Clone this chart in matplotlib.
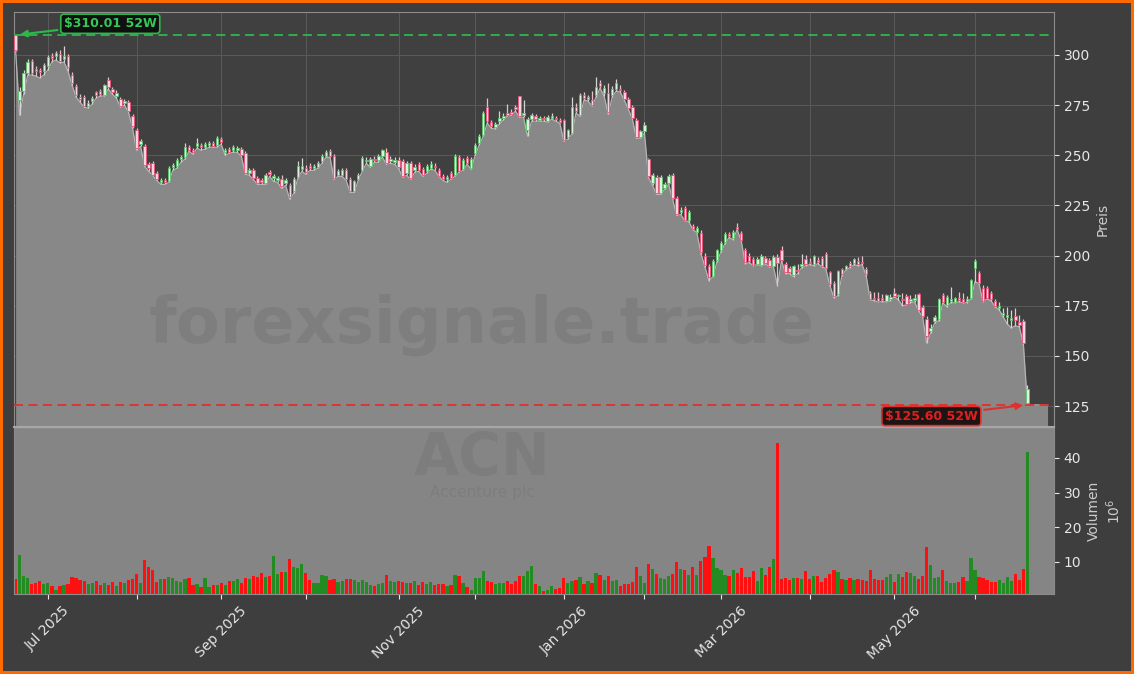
import numpy as np
import pandas as pd
import matplotlib
matplotlib.use("Agg")
import matplotlib.pyplot as plt

# ==========================================
# 1. DATA (ACN daily)
# ==========================================
holidays = ["2025-06-19", "2025-07-04", "2025-09-01", "2025-11-27", "2025-12-25",
            "2026-01-01", "2026-01-19", "2026-02-16", "2026-04-03", "2026-05-25"]
dates = pd.bdate_range("2025-06-18", "2026-06-18")
dates = dates[~dates.isin(pd.to_datetime(holidays))]

opens = [
    310.0, 277.5, 282.0, 291.0, 297.0, 293.0, 292.5, 292.0, 294.5, 299.5,
    299.5, 300.5, 298.0, 299.5, 290.0, 284.5, 279.0, 279.0, 274.5, 277.0,
    281.5, 282.0, 280.0, 287.5, 283.0, 279.5, 278.0, 276.0, 276.7, 269.6,
    262.7, 255.5, 254.4, 245.5, 246.0, 241.0, 236.5, 237.5, 237.0, 244.0,
    244.5, 248.0, 249.0, 254.0, 252.5, 254.5, 255.0, 254.0, 255.0, 256.0,
    255.0, 258.0, 251.5, 253.0, 252.5, 252.5, 253.0, 251.0, 241.0, 242.7,
    238.5, 237.5, 236.0, 241.5, 238.5, 237.5, 238.0, 236.0, 235.0, 232.0,
    239.0, 243.0, 243.6, 244.5, 243.5, 244.2, 247.0, 249.8, 252.0, 249.8,
    240.4, 240.1, 242.5, 238.2, 232.0, 238.2, 242.9, 247.0, 244.9, 248.0,
    247.5, 249.8, 251.5, 247.0, 246.5, 247.8, 247.0, 241.0, 246.2, 242.5,
    245.9, 243.2, 242.0, 243.7, 244.8, 242.5, 239.6, 238.2, 241.2, 240.4,
    249.2, 243.2, 248.7, 243.7, 251.0, 256.0, 260.2, 274.3, 266.4, 264.0,
    267.0, 268.5, 271.0, 271.5, 274.0, 279.3, 270.0, 262.7, 268.0, 269.4,
    267.8, 268.8, 267.0, 268.8, 268.5, 267.6, 267.5, 259.0, 261.2, 274.3,
    270.2, 280.1, 278.0, 277.3, 280.0, 286.0, 281.0, 281.0, 280.0, 283.0,
    283.0, 281.5, 278.0, 274.3, 267.7, 259.1, 261.9, 247.9, 236.0, 239.3,
    231.0, 233.8, 236.0, 240.4, 228.8, 221.5, 223.8, 217.7, 215.0, 212.0,
    211.4, 200.0, 195.0, 190.0, 198.0, 203.0, 207.0, 211.0, 209.0, 214.5,
    211.5, 203.0, 200.0, 198.5, 196.0, 195.5, 199.0, 198.0, 195.0, 199.5,
    203.0, 195.7, 194.0, 190.2, 193.0, 195.0, 198.5, 197.0, 195.7, 198.0,
    199.0, 200.6, 191.6, 186.6, 180.8, 193.2, 193.5, 196.5, 196.2, 197.3,
    197.0, 193.5, 181.6, 178.8, 179.0, 179.0, 177.5, 178.5, 181.6, 179.8,
    178.5, 180.0, 177.5, 178.0, 180.8, 174.6, 168.4, 162.5, 167.5, 168.4,
    180.3, 175.3, 177.5, 177.0, 179.0, 178.3, 177.5, 179.1, 194.0, 191.5,
    184.0, 184.0, 181.6, 177.5, 174.0, 170.5, 169.5, 168.0, 170.0, 167.0,
    167.5, 126.5,
]
highs = [
    310.01, 284.0, 292.5, 298.0, 298.0, 294.5, 293.5, 296.0, 300.0, 301.0,
    302.0, 302.5, 304.5, 300.5, 291.5, 285.5, 280.5, 280.0, 277.5, 279.5,
    282.0, 283.0, 285.5, 289.0, 284.0, 282.5, 279.0, 278.0, 277.5, 270.5,
    263.5, 258.0, 255.5, 246.5, 247.0, 242.0, 238.5, 238.5, 244.5, 246.0,
    248.5, 250.0, 256.0, 255.0, 253.5, 258.5, 256.0, 256.5, 257.0, 257.0,
    259.5, 259.0, 253.5, 254.0, 255.0, 254.5, 254.0, 252.0, 243.5, 243.5,
    239.5, 238.5, 241.0, 242.5, 240.5, 239.5, 240.0, 238.5, 236.0, 239.0,
    247.0, 248.5, 245.0, 246.0, 245.5, 247.0, 250.5, 252.5, 253.0, 250.5,
    243.0, 243.5, 243.5, 239.0, 237.5, 241.0, 249.5, 249.0, 249.0, 249.5,
    250.5, 253.0, 253.6, 249.5, 249.0, 249.0, 248.0, 247.0, 247.0, 245.5,
    246.5, 244.0, 245.5, 247.0, 246.0, 243.5, 240.5, 240.0, 242.0, 250.5,
    250.0, 248.5, 249.5, 249.0, 256.0, 260.5, 272.0, 278.5, 267.5, 266.5,
    272.0, 271.0, 275.5, 273.0, 275.0, 279.6, 277.5, 269.0, 271.0, 270.5,
    269.5, 269.5, 270.0, 271.0, 269.5, 268.5, 268.0, 263.0, 279.0, 276.0,
    281.0, 281.5, 280.0, 282.0, 289.0, 287.5, 285.0, 286.0, 284.5, 288.0,
    285.0, 282.5, 279.0, 275.0, 268.5, 262.5, 266.5, 248.5, 241.0, 240.0,
    240.0, 236.5, 240.5, 241.0, 229.5, 224.0, 224.5, 222.5, 216.0, 215.0,
    213.0, 201.5, 196.0, 198.5, 203.5, 207.5, 212.0, 212.0, 213.0, 216.5,
    212.5, 204.0, 201.5, 199.5, 199.5, 201.0, 200.0, 199.0, 200.5, 201.0,
    205.0, 197.0, 195.0, 195.5, 196.0, 201.0, 200.5, 199.0, 200.5, 199.5,
    200.0, 202.0, 192.5, 187.5, 193.0, 194.0, 195.5, 197.5, 199.0, 199.5,
    200.0, 194.5, 182.5, 182.0, 182.0, 181.0, 181.0, 181.0, 184.0, 181.0,
    181.5, 181.0, 180.5, 181.0, 181.5, 175.5, 170.0, 166.0, 170.5, 179.0,
    181.5, 180.5, 184.5, 179.5, 182.0, 181.5, 180.0, 188.5, 198.5, 192.5,
    185.5, 185.0, 182.5, 178.5, 177.0, 174.0, 174.5, 173.0, 174.0, 170.5,
    168.5, 135.5,
]
lows = [
    302.0, 270.0, 280.5, 290.0, 290.0, 289.5, 288.5, 290.0, 292.5, 296.5,
    297.5, 296.0, 296.5, 292.0, 285.0, 279.0, 276.5, 274.0, 273.5, 275.5,
    278.5, 279.5, 279.5, 283.0, 280.5, 278.5, 274.0, 275.0, 271.5, 263.5,
    252.5, 254.5, 244.5, 242.0, 240.0, 237.5, 235.5, 235.5, 236.5, 242.5,
    243.5, 246.5, 248.0, 252.0, 250.5, 253.5, 252.5, 253.0, 254.0, 254.0,
    254.0, 255.5, 250.0, 251.0, 251.5, 251.5, 249.5, 240.5, 240.0, 238.0,
    235.5, 235.5, 235.5, 239.5, 237.0, 236.5, 233.5, 235.0, 228.0, 231.0,
    238.5, 242.0, 240.5, 242.5, 242.5, 243.5, 246.0, 249.0, 249.0, 238.0,
    239.5, 239.5, 237.5, 231.5, 231.5, 237.5, 242.0, 246.0, 244.0, 246.5,
    246.5, 249.0, 245.5, 246.0, 245.5, 243.5, 239.0, 240.0, 238.0, 241.5,
    242.0, 239.5, 241.0, 243.0, 242.5, 239.5, 237.5, 236.5, 238.0, 239.5,
    241.5, 242.5, 245.5, 243.0, 250.0, 255.0, 259.5, 266.0, 263.5, 263.0,
    265.5, 267.5, 269.5, 270.0, 272.0, 269.0, 269.0, 259.5, 267.0, 267.0,
    267.0, 267.0, 266.5, 268.0, 267.0, 266.0, 257.0, 258.0, 260.5, 271.0,
    269.5, 277.5, 277.0, 274.5, 279.0, 283.5, 279.5, 270.5, 279.0, 282.0,
    281.5, 277.5, 273.0, 268.0, 258.5, 258.5, 261.0, 239.0, 235.0, 230.5,
    230.5, 233.0, 235.5, 228.0, 220.0, 220.5, 217.5, 217.0, 213.0, 211.5,
    201.0, 194.5, 187.5, 189.5, 197.0, 202.0, 206.0, 209.0, 208.0, 213.0,
    207.5, 196.0, 196.5, 195.0, 195.5, 195.0, 196.0, 194.5, 194.5, 185.0,
    197.5, 191.0, 191.0, 189.5, 191.0, 194.0, 195.0, 195.5, 195.0, 196.0,
    194.5, 193.5, 185.0, 179.0, 180.0, 190.0, 193.0, 194.0, 195.5, 195.0,
    195.5, 190.0, 178.0, 177.5, 177.0, 177.0, 177.0, 177.5, 179.5, 178.0,
    175.0, 175.5, 176.5, 177.0, 172.5, 169.5, 156.4, 161.5, 166.5, 167.5,
    176.5, 174.5, 176.5, 176.5, 177.0, 176.5, 176.5, 178.5, 187.0, 186.0,
    177.0, 178.5, 177.5, 174.5, 173.0, 169.5, 166.0, 164.0, 165.0, 164.5,
    156.0, 125.60,
]
closes = [
    302.5, 282.0, 291.0, 296.5, 291.0, 292.0, 291.5, 295.0, 299.0, 298.5,
    301.0, 297.0, 299.5, 294.0, 286.0, 280.0, 278.0, 274.5, 276.0, 278.5,
    280.0, 280.5, 285.0, 284.0, 281.5, 281.0, 274.8, 277.0, 272.0, 264.4,
    253.8, 257.0, 245.0, 243.5, 240.4, 238.0, 237.5, 236.5, 243.7, 245.0,
    247.8, 249.0, 254.0, 252.5, 251.5, 256.0, 254.0, 255.5, 256.0, 254.5,
    258.5, 256.5, 252.5, 251.5, 254.0, 253.5, 250.0, 241.0, 242.5, 238.5,
    236.0, 236.5, 240.0, 240.5, 239.5, 238.5, 234.6, 237.5, 229.0, 238.0,
    244.5, 244.5, 241.5, 243.5, 244.5, 246.2, 249.8, 251.5, 249.8, 238.7,
    242.0, 242.9, 238.0, 232.1, 237.1, 240.4, 248.7, 247.8, 248.2, 247.5,
    249.5, 252.5, 246.2, 248.0, 247.5, 244.0, 239.6, 246.2, 238.7, 244.0,
    242.5, 240.4, 244.9, 245.9, 244.2, 239.9, 238.2, 239.0, 238.7, 249.8,
    242.1, 247.8, 246.2, 248.2, 255.3, 259.5, 271.0, 266.9, 264.4, 265.5,
    268.5, 269.8, 270.0, 270.5, 273.0, 269.7, 271.0, 268.0, 270.0, 268.0,
    268.5, 268.0, 269.0, 269.8, 268.0, 266.8, 257.8, 262.4, 274.0, 271.9,
    280.1, 278.5, 279.0, 275.2, 284.0, 284.5, 283.5, 271.5, 283.0, 286.0,
    282.5, 278.0, 273.5, 268.5, 259.1, 261.9, 265.2, 239.6, 240.0, 231.3,
    239.3, 235.5, 239.6, 228.8, 220.5, 222.8, 218.0, 221.7, 213.5, 214.0,
    202.0, 195.5, 189.5, 197.5, 203.0, 206.5, 211.0, 210.0, 212.0, 213.5,
    208.0, 197.0, 197.5, 195.5, 198.5, 200.0, 196.5, 195.0, 199.5, 196.5,
    198.0, 191.6, 191.6, 194.9, 192.4, 196.0, 195.7, 196.5, 199.8, 197.0,
    195.0, 194.0, 185.8, 180.0, 192.4, 190.7, 194.9, 194.9, 198.2, 195.7,
    196.5, 190.7, 178.6, 178.3, 177.5, 177.9, 180.3, 179.5, 180.0, 180.5,
    178.0, 175.8, 178.5, 179.0, 173.0, 170.0, 160.1, 164.0, 169.2, 178.3,
    177.0, 179.6, 178.5, 179.0, 178.0, 177.0, 178.5, 187.7, 197.3, 186.6,
    177.5, 179.1, 178.3, 175.0, 175.0, 171.5, 170.5, 169.0, 168.0, 165.5,
    156.4, 133.5,
]
volumes = [  # millions of shares
    5.1, 12.0, 6.0, 5.5, 3.7, 4.0, 4.5, 3.7, 4.0, 3.1,
    2.0, 3.1, 3.4, 3.7, 5.7, 5.3, 4.8, 4.5, 3.7, 4.0,
    4.5, 3.4, 4.0, 3.4, 4.2, 3.1, 4.2, 4.0, 4.8, 5.1,
    6.5, 4.0, 10.6, 8.6, 7.7, 4.2, 5.1, 5.1, 5.7, 5.4,
    4.5, 4.2, 5.1, 5.4, 3.4, 3.7, 2.8, 5.4, 2.8, 3.4,
    3.4, 4.0, 3.4, 4.5, 4.5, 5.1, 4.0, 5.4, 5.1, 6.0,
    5.7, 6.8, 5.7, 6.0, 11.7, 6.5, 7.1, 7.1, 10.9, 8.6,
    8.3, 9.4, 6.8, 4.8, 4.0, 4.0, 6.2, 6.0, 4.8, 5.1,
    4.2, 4.5, 5.1, 5.1, 4.8, 4.2, 4.8, 4.2, 3.4, 3.1,
    3.7, 4.0, 6.2, 4.5, 4.2, 4.5, 4.1, 3.8, 3.8, 4.4,
    3.5, 4.1, 3.6, 4.1, 3.5, 3.7, 3.7, 3.2, 3.5, 6.2,
    6.0, 4.0, 2.8, 2.0, 5.4, 5.4, 7.4, 4.4, 4.2, 3.7,
    3.8, 4.0, 4.5, 3.7, 4.5, 6.0, 6.0, 7.4, 8.8, 3.7,
    3.1, 1.6, 2.0, 3.1, 2.2, 2.5, 5.4, 4.0, 4.5, 4.8,
    5.7, 3.7, 4.5, 4.0, 6.8, 6.2, 4.8, 6.0, 4.5, 4.8,
    3.1, 3.7, 3.7, 4.2, 8.6, 6.0, 4.0, 9.4, 8.0, 6.5,
    5.4, 5.1, 6.0, 6.5, 10.0, 8.0, 7.7, 6.2, 8.6, 6.2,
    10.3, 11.4, 14.6, 11.2, 8.3, 7.7, 6.2, 6.0, 7.7, 6.8,
    8.3, 5.7, 5.7, 7.4, 4.5, 8.3, 6.2, 8.6, 10.9, 44.4,
    5.1, 5.4, 4.8, 5.4, 5.4, 5.1, 7.4, 5.1, 6.0, 6.0,
    4.2, 5.4, 6.5, 7.7, 7.1, 5.1, 4.8, 5.4, 4.8, 5.1,
    4.8, 4.5, 7.7, 5.1, 4.8, 4.8, 5.7, 6.5, 4.2, 6.5,
    5.7, 7.1, 6.8, 6.0, 5.1, 6.0, 14.3, 9.1, 5.4, 5.7,
    7.7, 4.5, 4.0, 4.0, 4.2, 5.7, 4.5, 11.2, 7.7, 5.7,
    5.4, 4.8, 4.2, 4.2, 4.8, 4.0, 5.7, 4.5, 6.5, 4.8,
    8.0, 41.7,
]

high_52w = 310.01
low_52w = 125.60
ticker = "ACN"
company = "Accenture plc"
watermark = "forexsignale.trade"

# ==========================================
# 2. STYLE
# ==========================================
FIG_BG = "#3e3e3e"
AX_BG = "#404040"
VOL_BG = "#858585"
AREA = "#888888"
SPINE = "#8c8c8c"
TXT = "#e6e6e6"
UP_EDGE, UP_FACE, UP_WICK = "#5cc46a", "#dcf2dc", "#d4d4d4"
DN_EDGE, DN_FACE, DN_WICK = "#ee5078", "#f6d6de", "#e6c0ca"
VOL_UP, VOL_DN = "#228b22", "#ff1010"
HI_COL, LO_COL = "#2eb84b", "#e0302c"

o = np.array(opens)
h = np.array(highs)
l = np.array(lows)
c = np.array(closes)
v = np.array(volumes)
x = np.arange(len(c))
up = c >= o

# month ticks (first trading day of each month)
month_idx = [i for i in range(1, len(dates)) if dates[i].month != dates[i - 1].month]
month_lbl = [dates[i].strftime("%b %Y") if k % 2 == 0 else "" for k, i in enumerate(month_idx)]

# ==========================================
# 3. FIGURE
# ==========================================
W, H = 1134, 674
fig = plt.figure(figsize=(W / 100, H / 100), dpi=100, facecolor=FIG_BG)
fig.patch.set_edgecolor("#ff6a00")
fig.patch.set_linewidth(4)

ax = fig.add_axes([14 / W, 1 - 427 / H, 1040 / W, 415 / H], facecolor=AX_BG)
axv = fig.add_axes([14 / W, 1 - 594 / H, 1040 / W, 166 / H], facecolor=VOL_BG, sharex=ax)

# price area (lows) + candles
xf = np.append(x, x[-1] + 5)
lf = np.append(l, l[-1])
ax.fill_between(xf, lf, 100, color=AREA, lw=0, zorder=1)
ax.plot(xf, lf, color="#b4b4b4", lw=0.9, zorder=2)

ax.text(0.45, 0.246, watermark, transform=ax.transAxes, ha="center", va="center",
        fontsize=46, fontweight="bold", color="black", alpha=0.065, zorder=2.5)

ax.vlines(x, l, h, colors=np.where(up, UP_WICK, DN_WICK), lw=0.9, zorder=3)
ax.bar(x, np.abs(c - o), bottom=np.minimum(o, c), width=0.6,
       color=np.where(up, UP_FACE, DN_FACE), edgecolor=np.where(up, UP_EDGE, DN_EDGE),
       linewidth=0.6, zorder=4)

# 52 week high / low
ax.axhline(high_52w, color=HI_COL, ls=(0, (5, 3)), lw=1.3, zorder=5)
ax.axhline(low_52w, color=LO_COL, ls=(0, (5, 3)), lw=1.3, zorder=5)
i_hi = int(np.argmax(h))
i_lo = int(np.argmin(l))
ax.annotate(f"\\${high_52w:.2f} 52W", xy=(i_hi + 0.4, high_52w), xytext=(67, 8),
            textcoords="offset points", ha="center", va="center", fontsize=9,
            fontweight="bold", color="#35c759", zorder=10,
            bbox=dict(boxstyle="round,pad=0.25", fc="#101010", ec=HI_COL, lw=1.2),
            arrowprops=dict(arrowstyle="-|>", color=HI_COL, lw=1.5, mutation_scale=10))
ax.annotate(f"\\${low_52w:.2f} 52W", xy=(i_lo - 0.4, low_52w), xytext=(-68, -8),
            textcoords="offset points", ha="center", va="center", fontsize=9,
            fontweight="bold", color="#e02020", zorder=10,
            bbox=dict(boxstyle="round,pad=0.25", fc="#1e1414", ec=LO_COL, lw=1.2),
            arrowprops=dict(arrowstyle="-|>", color=LO_COL, lw=1.5, mutation_scale=10))

ax.set_xlim(-0.4, 257.6)
ax.set_ylim(114.6, 321.4)
ax.set_yticks([125, 150, 175, 200, 225, 250, 275, 300])
ax.grid(True, color="#5a5a5a", lw=0.7, zorder=0)
ax.set_axisbelow(True)
ax.yaxis.tick_right()
ax.yaxis.set_label_position("right")
ax.set_ylabel("Preis", color="#cccccc", fontsize=10)
ax.tick_params(axis="y", colors=TXT, labelsize=10)
ax.tick_params(axis="x", length=0, labelbottom=False)
for side, sp in ax.spines.items():
    sp.set_color(SPINE)
ax.spines["bottom"].set_color("#a8a8a8")
ax.spines["bottom"].set_linewidth(1.5)

# volume panel
axv.bar(x, v, width=0.8, color=np.where(up, VOL_UP, VOL_DN), zorder=2)
axv.text(0.45, 0.815, ticker, transform=axv.transAxes, ha="center", va="center",
         fontsize=42, fontweight="bold", color="black", alpha=0.06, zorder=1)
axv.text(0.45, 0.61, company, transform=axv.transAxes, ha="center", va="center",
         fontsize=11, color="black", alpha=0.06, zorder=1)
axv.set_ylim(0.77, 48.65)
axv.set_yticks([10, 20, 30, 40])
axv.yaxis.tick_right()
axv.yaxis.set_label_position("right")
axv.set_ylabel("Volumen\n$10^{6}$", color="#cccccc", fontsize=10)
axv.tick_params(axis="y", colors=TXT, labelsize=10)
axv.set_xticks(month_idx)
axv.set_xticklabels(month_lbl, rotation=45, ha="center")
axv.tick_params(axis="x", colors=TXT, labelsize=10)
for side, sp in axv.spines.items():
    sp.set_color(SPINE)

fig.savefig("out.png", dpi=100, facecolor=fig.get_facecolor(), edgecolor=fig.get_edgecolor())
